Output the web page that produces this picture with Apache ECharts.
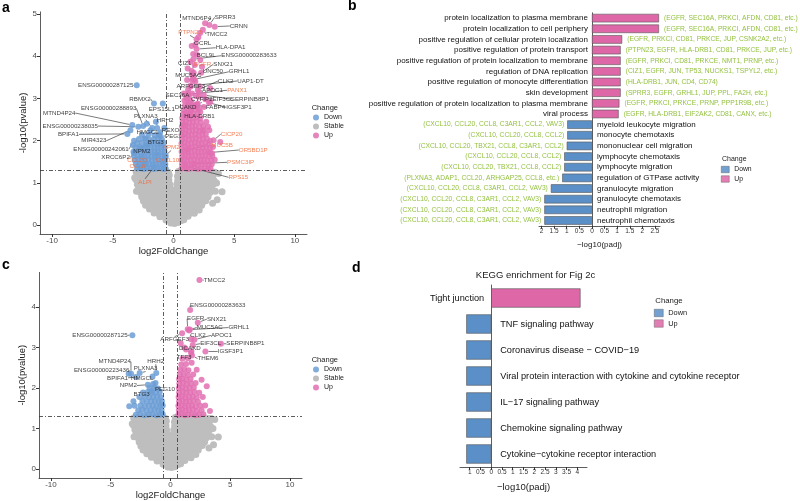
<!DOCTYPE html>
<html><head><meta charset="utf-8">
<style>html,body{margin:0;padding:0;background:#fff}#c{width:800px;height:501px}</style>
<script src="https://cdn.jsdelivr.net/npm/echarts@6/dist/echarts.min.js"></script>
</head><body><div id="c"></div>
<script>
// ---------------- DATA ----------------
const volcanoXTicks = [-10, -5, 0, 5, 10];
const volcanoYTicksA = [0, 1, 2, 3, 4, 5];
const volcanoYTicksC = [0, 1, 2, 3, 4];
const fcCut = 0.585, pCut = 1.301;

// Stable (grey) genes, shared cloud (log2FC, -log10 p)
const stable = [
[-3.08,1.26],[-2.72,1.28],[-2.38,1.25],[-2.05,1.27],[-1.70,1.28],[-1.36,1.26],[-1.02,1.27],[-0.70,1.28],[-0.42,1.25],[0.40,1.27],[0.70,1.26],[1.05,1.28],[1.38,1.25],[1.72,1.27],[2.05,1.28],[2.40,1.26],[2.75,1.27],[3.12,1.25],
[-2.95,1.17],[-2.60,1.16],[-2.22,1.18],[-1.88,1.17],[-1.53,1.15],[-1.20,1.18],[-0.86,1.17],[-0.55,1.16],[-0.35,1.18],[0.33,1.16],[0.55,1.18],[0.88,1.17],[1.22,1.15],[1.55,1.18],[1.90,1.16],[2.25,1.17],[2.58,1.18],[2.92,1.16],[3.25,1.17],
[-3.10,1.08],[-2.78,1.06],[-2.42,1.07],[-2.08,1.08],[-1.73,1.06],[-1.38,1.07],[-1.05,1.08],[-0.72,1.06],[-0.38,1.07],[0.35,1.06],[0.68,1.08],[1.02,1.07],[1.37,1.06],[1.70,1.08],[2.05,1.07],[2.40,1.06],[2.74,1.08],[3.08,1.07],[3.35,1.05],
[-2.98,0.97],[-2.62,0.98],[-2.27,0.96],[-1.92,0.97],[-1.58,0.98],[-1.22,0.96],[-0.88,0.97],[-0.56,0.98],[-0.30,0.96],[0.28,0.97],[0.55,0.96],[0.88,0.98],[1.22,0.97],[1.57,0.96],[1.90,0.98],[2.25,0.97],[2.60,0.96],[2.95,0.98],[3.28,0.97],
[-2.88,0.86],[-2.52,0.88],[-2.16,0.87],[-1.80,0.86],[-1.45,0.88],[-1.10,0.87],[-0.76,0.86],[-0.45,0.88],[-0.25,0.87],[0.25,0.86],[0.47,0.88],[0.80,0.87],[1.14,0.86],[1.48,0.88],[1.83,0.87],[2.17,0.86],[2.50,0.88],[2.84,0.87],[3.15,0.86],
[-2.72,0.77],[-2.36,0.76],[-2.00,0.78],[-1.65,0.77],[-1.30,0.76],[-0.96,0.78],[-0.62,0.77],[-0.35,0.76],[-0.20,0.78],[0.20,0.77],[0.38,0.76],[0.66,0.78],[1.00,0.77],[1.34,0.76],[1.68,0.78],[2.02,0.77],[2.36,0.76],[2.70,0.78],[3.00,0.77],
[-2.62,0.67],[-2.26,0.68],[-1.90,0.66],[-1.55,0.67],[-1.20,0.68],[-0.85,0.66],[-0.52,0.67],[-0.28,0.68],[-0.16,0.66],[0.17,0.67],[0.30,0.68],[0.55,0.66],[0.90,0.67],[1.24,0.68],[1.58,0.66],[1.92,0.67],[2.26,0.68],[2.58,0.66],[2.85,0.67],
[-2.48,0.57],[-2.12,0.56],[-1.77,0.58],[-1.42,0.57],[-1.08,0.56],[-0.74,0.58],[-0.42,0.57],[-0.18,0.56],[0.14,0.58],[0.28,0.57],[0.48,0.56],[0.80,0.58],[1.14,0.57],[1.48,0.56],[1.82,0.58],[2.15,0.57],[2.45,0.56],[2.66,0.58],
[-2.30,0.47],[-1.95,0.48],[-1.60,0.46],[-1.25,0.47],[-0.92,0.48],[-0.60,0.46],[-0.30,0.47],[-0.10,0.48],[0.10,0.46],[0.35,0.47],[0.65,0.48],[0.98,0.46],[1.32,0.47],[1.66,0.48],[2.00,0.46],[2.32,0.47],
[-1.98,0.38],[-1.62,0.37],[-1.28,0.39],[-0.95,0.38],[-0.62,0.37],[-0.32,0.39],[0.00,0.38],[0.30,0.37],[0.62,0.39],[0.95,0.38],[1.30,0.37],[1.62,0.39],[1.94,0.38],[2.12,0.36],
[-1.60,0.29],[-1.26,0.28],[-0.92,0.30],[-0.60,0.29],[-0.28,0.28],[0.04,0.30],[0.36,0.29],[0.68,0.28],[1.02,0.30],[1.36,0.29],[1.72,0.28],
[-1.12,0.20],[-0.78,0.21],[-0.45,0.19],[-0.12,0.20],[0.20,0.21],[0.52,0.19],[0.86,0.20],[1.20,0.21],
[-0.62,0.12],[-0.30,0.11],[0.02,0.13],[0.34,0.12],[0.64,0.11],[0.85,0.13],
[-0.22,0.05],[0.08,0.04],[0.36,0.06],
[3.60,0.60],[4.00,0.79],[3.22,0.52],[3.55,1.00],[3.45,0.80],[-3.05,0.80],[3.70,1.22],[-3.20,1.12],[3.40,1.25]
];

// Panel a: down-regulated (blue)
const downA = [
[-3.00,1.34],[-2.72,1.35],[-2.45,1.33],[-2.18,1.34],[-1.90,1.35],[-1.62,1.33],[-1.35,1.34],[-1.08,1.35],[-0.82,1.33],[-0.64,1.34],
[-3.10,1.44],[-2.82,1.45],[-2.55,1.43],[-2.28,1.44],[-2.00,1.45],[-1.72,1.43],[-1.45,1.44],[-1.18,1.45],[-0.92,1.43],[-0.68,1.44],
[-3.20,1.54],[-2.90,1.55],[-2.62,1.53],[-2.34,1.54],[-2.06,1.55],[-1.78,1.53],[-1.50,1.54],[-1.22,1.55],[-0.95,1.53],[-0.70,1.54],
[-3.25,1.64],[-2.95,1.65],[-2.66,1.63],[-2.38,1.64],[-2.10,1.65],[-1.82,1.63],[-1.54,1.64],[-1.26,1.65],[-0.98,1.63],[-0.72,1.64],
[-3.30,1.74],[-3.00,1.75],[-2.70,1.73],[-2.40,1.74],[-2.12,1.75],[-1.84,1.73],[-1.56,1.74],[-1.28,1.75],[-1.00,1.73],[-0.74,1.74],
[-3.15,1.84],[-2.80,1.85],[-2.45,1.83],[-2.15,1.84],[-1.86,1.85],[-1.58,1.83],[-1.30,1.84],[-1.02,1.85],[-0.76,1.83],
[-3.00,1.94],[-2.60,1.95],[-2.25,1.93],[-1.95,1.94],[-1.65,1.95],[-1.35,1.93],[-1.05,1.94],[-0.80,1.95],
[-2.85,2.04],[-2.40,2.05],[-2.00,2.03],[-1.60,2.04],[-1.25,2.05],[-0.95,2.03],
[-2.60,2.14],[-2.05,2.15],[-1.55,2.13],[-1.20,2.14],
[-3.35,1.90],[-0.75,2.30],[-1.90,2.25],[-2.20,2.40],[-1.45,2.45],[-0.70,1.40],[-0.66,1.60]
];
const downLabA = [
['ENSG00000287125',-3.03,3.31],['RBMX2',-1.61,2.88],['EPS15L1',-0.88,2.88],['MTND4P24',-3.40,2.37],
['ENSG00000288893',-2.50,2.35],['PLXNA3',-1.75,2.30],['HRH2',-1.35,2.30],['ENSG00000238035',-2.90,2.33],
['REXO4',-1.10,2.20],['PEG10',-1.11,2.11],['HMGCL',-2.30,2.05],['BPIFA1',-3.80,2.16],['MIR4323',-3.55,2.25],
['ENSG00000242061',-3.25,2.00],['BTG3',-2.70,1.82],['NPM2',-2.20,1.90],['XRCC6P2',-3.25,1.70],
['CCL20',-2.60,1.62],['CCL8',-2.40,1.45],['CXCL10',-1.40,1.67],['NPM2',-0.65,1.65],['ALPI',-1.60,1.38]
];
// Panel a: up-regulated (pink)
const upA = [
[0.66,1.34],[0.92,1.35],[1.18,1.33],[1.45,1.34],[1.72,1.35],[2.00,1.33],[2.28,1.34],[2.56,1.35],[2.85,1.33],[3.05,1.34],
[0.70,1.44],[0.95,1.45],[1.20,1.43],[1.48,1.44],[1.75,1.45],[2.02,1.43],[2.30,1.44],[2.60,1.45],[2.90,1.43],[3.15,1.44],
[0.66,1.54],[0.90,1.55],[1.15,1.53],[1.42,1.54],[1.70,1.55],[1.98,1.53],[2.25,1.54],[2.52,1.55],[2.80,1.53],[3.10,1.54],
[0.72,1.64],[0.98,1.65],[1.25,1.63],[1.52,1.64],[1.80,1.65],[2.08,1.63],[2.36,1.64],[2.64,1.65],[2.92,1.63],[3.20,1.64],
[0.67,1.74],[0.93,1.75],[1.20,1.73],[1.46,1.74],[1.74,1.75],[2.02,1.73],[2.30,1.74],[2.58,1.75],[2.85,1.73],
[0.70,1.84],[0.97,1.85],[1.25,1.83],[1.52,1.84],[1.80,1.85],[2.10,1.83],[2.40,1.84],[2.70,1.85],[3.00,1.83],
[0.66,1.94],[0.92,1.95],[1.20,1.93],[1.48,1.94],[1.76,1.95],[2.05,1.93],[2.33,1.94],[2.62,1.95],[2.90,1.93],
[0.70,2.04],[0.98,2.05],[1.26,2.03],[1.55,2.04],[1.84,2.05],[2.12,2.03],[2.42,2.04],[2.75,2.05],
[0.68,2.14],[0.95,2.15],[1.22,2.13],[1.50,2.14],[1.80,2.15],[2.08,2.13],[2.38,2.14],[2.66,2.15],
[0.72,2.24],[1.00,2.25],[1.28,2.23],[1.56,2.24],[1.85,2.25],[2.15,2.23],[2.50,2.24],
[0.70,2.34],[0.98,2.35],[1.25,2.33],[1.54,2.34],[1.82,2.35],[2.12,2.33],[2.45,2.34],
[0.75,2.44],[1.02,2.45],[1.30,2.43],[1.60,2.44],[1.90,2.45],[2.25,2.43],
[0.72,2.54],[1.00,2.55],[1.28,2.53],[1.58,2.54],[1.90,2.55],[2.20,2.53],
[0.80,2.64],[1.08,2.65],[1.36,2.63],[1.66,2.64],[2.00,2.65],
[0.85,2.74],[1.15,2.75],[1.45,2.73],[1.78,2.74],[2.10,2.75],
[0.95,2.84],[1.25,2.85],[1.55,2.83],[1.95,2.84],
[3.85,1.97],[3.17,1.70],[3.03,2.00],[3.40,1.55],[3.25,1.85],[2.95,2.25],[2.70,2.45],[2.85,2.33],[2.40,2.25],
[1.80,4.27],[1.94,4.03],[2.21,3.91],[1.75,3.79],[2.35,3.75],[1.39,3.87],[1.66,3.61],[1.53,3.57],[1.12,3.44],[1.80,3.40],
[2.16,3.29],[1.39,3.28],[3.03,3.24],[1.53,3.12],[2.07,3.04],[2.62,2.98],[3.03,2.92],[1.25,3.04],[1.53,2.88],[1.94,2.80],
[0.98,2.65],[1.34,2.61],[2.21,2.68],[0.84,2.37],[1.05,3.00],[0.90,2.95],[2.50,2.80],[1.20,3.20],[2.05,4.45],[2.20,4.55]
];
const upLabA = [
['MTND6P4',2.60,4.78],['SPRR3',2.95,4.74],['CRNN',3.40,4.70],['PTPN23',1.90,4.40],['TMCC2',2.42,4.63],
['OCRL',1.50,4.24],['HLA-DPA1',1.90,4.17],['BCL9L',1.62,4.05],['ENSG00000283633',1.64,3.93],['CIZ1',1.17,3.71],
['EGFR',1.50,3.65],['SNX21',2.28,3.61],['MUC5AC',1.55,3.42],['UNC50',1.60,3.48],['GRHL1',1.70,3.45],
['CLK2',2.00,3.20],['UAP1-DT',1.40,3.30],['ARFGEF3',0.85,3.12],['APOC1',2.10,3.15],['PANX1',1.20,3.10],
['SEC16A',1.40,2.95],['CYFIP2',2.00,2.88],['EIF3CL',1.86,3.06],['SERPINB8P1',2.50,3.08],['DCAKD',1.25,2.90],
['FABP4',1.90,2.85],['IGSF3P1',2.92,2.90],['HLA-DRB1',1.40,2.70],['CICP20',3.30,2.01],['MUC5B',1.12,1.79],
['OR5BD1P',3.03,1.72],['PSMC3IP',1.66,1.45],['RPS15',0.98,1.40]
];

// Panel c
const downC = [
[-2.90,1.34],[-2.55,1.35],[-2.20,1.33],[-1.85,1.34],[-1.50,1.35],[-1.18,1.33],[-0.88,1.34],[-0.65,1.35],
[-2.70,1.45],[-2.35,1.46],[-2.00,1.44],[-1.66,1.45],[-1.34,1.46],[-1.02,1.44],[-0.75,1.45],
[-3.00,1.56],[-2.50,1.57],[-2.15,1.55],[-1.80,1.56],[-1.48,1.57],[-1.16,1.55],[-0.86,1.56],[-0.65,1.57],
[-3.10,1.67],[-2.35,1.68],[-1.98,1.66],[-1.62,1.67],[-1.30,1.68],[-1.00,1.66],[-0.72,1.67],
[-2.60,1.78],[-2.15,1.79],[-1.78,1.77],[-1.44,1.78],[-1.12,1.79],[-0.82,1.77],
[-2.30,1.89],[-1.90,1.90],[-1.55,1.88],[-1.22,1.89],[-0.90,1.90],
[-1.75,2.00],[-1.35,2.01],[-1.05,1.99],[-1.25,2.12],[-3.45,1.55]
];
const downLabC = [
['ENSG00000287125',-3.19,3.30],['MTND4P24',-3.30,2.35],['HRH2',-1.19,2.37],['ENSG00000223436',-3.50,2.35],
['PLXNA3',-2.58,2.37],['BPIFA1',-2.90,2.27],['HMGCL',-1.50,2.28],['NPM2',-1.89,2.08],['PEG10',-1.45,2.10],['BTG3',-1.60,1.92]
];
const upC = [
[0.66,1.34],[0.92,1.35],[1.20,1.33],[1.48,1.34],[1.78,1.35],[2.08,1.33],[2.40,1.34],[2.75,1.35],[3.30,1.43],
[0.70,1.45],[0.98,1.46],[1.26,1.44],[1.55,1.45],[1.86,1.46],[2.20,1.44],[2.60,1.45],
[0.66,1.56],[0.94,1.57],[1.22,1.55],[1.50,1.56],[1.80,1.57],[2.12,1.55],[2.50,1.56],[2.90,1.57],
[0.72,1.67],[1.00,1.68],[1.30,1.66],[1.60,1.67],[1.92,1.68],[2.30,1.66],
[0.68,1.78],[0.96,1.79],[1.24,1.77],[1.54,1.78],[1.86,1.79],[2.20,1.77],[2.70,1.78],
[0.72,1.89],[1.02,1.90],[1.32,1.88],[1.64,1.89],[2.00,1.90],[2.40,1.88],
[0.70,2.00],[0.98,2.01],[1.28,1.99],[1.60,2.00],[1.95,2.01],[3.03,2.04],
[0.74,2.11],[1.04,2.12],[1.36,2.10],[1.70,2.11],[2.10,2.12],
[0.72,2.22],[1.00,2.23],[1.32,2.21],[1.68,2.22],[2.60,2.20],
[0.78,2.33],[1.10,2.34],[1.45,2.32],[1.90,2.33],
[0.82,2.45],[1.15,2.46],[1.50,2.44],[2.19,2.45],
[0.90,2.58],[1.30,2.59],[1.77,2.62],
[1.00,2.72],[1.45,2.73],[1.15,3.00],[0.85,3.10],[1.30,2.95]
];
const upLabC = [
['TMCC2',2.42,4.66],['ENSG00000283633',1.64,3.92],['EGFR',1.44,3.45],['SNX21',2.28,3.61],['MUC5AC',1.55,3.42],
['GRHL1',1.62,3.44],['ARFGEF3',0.97,3.35],['CLK2',1.72,3.20],['APOC1',2.00,3.19],['EIF3CL',1.86,3.06],
['SERPINB8P1',4.22,3.09],['DCAKD',1.75,2.90],['IGSF3P1',2.92,2.90],['TFF3',1.72,2.86],['THEM6',1.80,2.80]
];

// Panel b: GO enrichment
const goUpTerms = ['protein localization to plasma membrane','protein localization to cell periphery','positive regulation of cellular protein localization','positive regulation of protein transport','positive regulation of protein localization to membrane','regulation of DNA replication','positive regulation of monocyte differentiation','skin development','positive regulation of protein localization to plasma membrane','viral process'];
const goUpVals = [2.66,2.66,1.20,1.14,1.14,1.14,1.14,1.14,1.09,1.06];
const goUpGenes = ['(EGFR, SEC16A, PRKCI, AFDN, CD81, etc.)','(EGFR, SEC16A, PRKCI, AFDN, CD81, etc.)','(EGFR, PRKCI, CD81, PRKCE, JUP, CSNK2A2, etc.)','(PTPN23, EGFR, HLA-DRB1, CD81, PRKCE, JUP, etc.)','(EGFR, PRKCI, CD81, PRKCE, NMT1, PRNP, etc.)','(CIZ1, EGFR, JUN, TP53, NUCKS1, TSPYL2, etc.)','(HLA-DRB1, JUN, CD4, CD74)','(SPRR3, EGFR, GRHL1, JUP, PPL, FA2H, etc.)','(EGFR, PRKCI, PRKCE, PRNP, PPP1R9B, etc.)','(EGFR, HLA-DRB1, EIF2AK2, CD81, CANX, etc.)'];
const goDownTerms = ['myeloid leukocyte migration','monocyte chemotaxis','mononuclear cell migration','lymphocyte chemotaxis','lymphocyte migration','regulation of GTPase activity','granulocyte migration','granulocyte chemotaxis','neutrophil migration','neutrophil chemotaxis'];
const goDownVals = [0.98,0.98,1.00,1.10,1.10,1.18,1.63,1.89,1.89,1.89];
const goDownGenes = ['(CXCL10, CCL20, CCL8, C3AR1, CCL2, VAV3)','(CXCL10, CCL20, CCL8, CCL2)','(CXCL10, CCL20, TBX21, CCL8, C3AR1, CCL2)','(CXCL10, CCL20, CCL8, CCL2)','(CXCL10, CCL20, TBX21, CCL8, CCL2)','(PLXNA3, ADAP1, CCL20, ARHGAP25, CCL8, etc.)','(CXCL10, CCL20, CCL8, C3AR1, CCL2, VAV3)','(CXCL10, CCL20, CCL8, C3AR1, CCL2, VAV3)','(CXCL10, CCL20, CCL8, C3AR1, CCL2, VAV3)','(CXCL10, CCL20, CCL8, C3AR1, CCL2, VAV3)'];
const goTicks = [-2,-1.5,-1,-0.5,0,0.5,1,1.5,2,2.5];

// Panel d: KEGG enrichment
const keggUpTerms = ['Tight junction'];
const keggUpVals = [4.15];
const keggDownTerms = ['TNF signaling pathway','Coronavirus disease \u2212 COVID\u221219','Viral protein interaction with cytokine and cytokine receptor','IL\u221217 signaling pathway','Chemokine signaling pathway','Cytokine\u2212cytokine receptor interaction'];
const keggDownVals = [1.16,1.16,1.16,1.16,1.16,1.16];
const keggTicks = [-1,-0.5,0,0.5,1,1.5,2,2.5,3,3.5,4];

// -------------- LAYOUT / STYLE (not data) --------------
// label offsets in px [dx, dy, orange?]
const offDownA = [[-31,0,0],[-14,-4.5,0],[-1,5.5,0],[-73,-12,0],[-34.5,-17.6,0],[-6.5,-11.3,0],[8,-7.3,0],[-68,-0.7,0],
[12,-2,0],[15,0,0],[2,-6,0],[-59,0.4,0],[-36.6,10.6,0],[-33,8.6,0],[15,-6,0],[-5,6,0],[-18.5,4.4,0],
[-5,3.3,1],[-7,2.8,1],[11,5.4,1],[5.5,-8,1],[-9,15,1]];
const offUpA = [[-8.4,-5,0],[15.7,-7.7,0],[24,-0.7,0],[-6.6,-7,1],[14,4.4,0],[11,-2.7,0],[34,-1.3,0],[13,1,0],[55.6,-3.5,0],[-3,-5,0],
[11,-6.3,1],[22,-8.4,0],[-4,-5,0],[20,-6.5,0],[45,-7.7,0],[28,-9,0],[60,-4.8,0],[7,-7,0],[13.5,-2,0],[49,-4,1],
[-13,-5.5,0],[4,-4,0],[27,3,0],[46,4,0],[-3,5,0],[19,2.5,0],[30,4.6,0],[9,5.6,0],[18,-6,1],[35,-4.5,1],
[43,-2.5,1],[47,-1.6,1],[53,11.3,1]];
const offDownC = [[-32.4,0,0],[-16.3,-12,0],[-0.5,-11.7,0],[-27,-3.5,0],[6,-4.4,0],[-18.3,0.8,0],[-10.4,1.2,0],[-19.6,0.8,0],[11.8,5.6,0],[-9.7,3.2,0]];
const offUpC = [[15,0,0],[27.7,-4.6,0],[8,-10.4,0],[19,-3.6,0],[20.7,-3,0],[49,-2,0],[-7.5,6.5,0],[7,-4,0],[27,-4.3,0],[18,-1.3,0],
[24.5,0,0],[-1.5,-3,0],[25,0,0],[-7,4,0],[16,3,0]];

const FONT = '"Liberation Sans", Arial, sans-serif';
const C = {up:'#E270B2', down:'#6C9DD5', stable:'#BEBEBE', barUp:'#DE67A8', barDown:'#5B8FC8', gene:'#93C13E', orange:'#F26B38', ink:'#1a1a1a', axis:'#333', tick:'#4d4d4d'};

function labItems(lab, off){
  return lab.map((l,i)=>({name:l[0], value:[l[1],l[2]], label:{show:true, color: off[i][2] ? C.orange : C.ink}}));
}
function volcanoSeries(gi, downPlain, downLab, downOff, upPlain, upLab, upOff){
  const common = {type:'scatter', xAxisIndex:gi, yAxisIndex:gi, silent:true,
    label:{show:false, position:'inside', fontSize:6.2, fontFamily:FONT, color:C.ink, formatter: p => p.name},
    labelLine:{show:true, lineStyle:{color:'#222', width:0.6}}};
  return [
    {type:'scatter', name:'Stable', xAxisIndex:gi, yAxisIndex:gi, silent:true, data:stable, symbolSize:7, itemStyle:{color:C.stable, opacity:1}, z:1},
    Object.assign({}, common, {name:'Down', data: labItems(downLab, downOff).concat(downPlain), symbolSize:6,
      itemStyle:{color:C.down, opacity:0.85}, z:2,
      labelLayout: p => { const o = downOff[p.dataIndex]; return o ? {dx:o[0], dy:o[1]} : {}; }}),
    Object.assign({}, common, {name:'Up', data: labItems(upLab, upOff).concat(upPlain), symbolSize:6,
      itemStyle:{color:C.up, opacity:0.85}, z:3,
      labelLayout: p => { const o = upOff[p.dataIndex]; return o ? {dx:o[0], dy:o[1]} : {}; },
      markLine:{silent:true, symbol:'none', label:{show:false}, animation:false,
        lineStyle:{type:[4,2,1,2], color:'#333', width:0.8},
        data:[{xAxis:-fcCut},{xAxis:fcCut},{yAxis:pCut}]}})
  ];
}
function volcanoX(gi){
  return {type:'value', gridIndex:gi, min:-11, max:11,
    axisLine:{show:true, onZero:false, lineStyle:{color:C.axis, width:0.8}},
    axisTick:{show:true, length:3, customValues:volcanoXTicks, lineStyle:{color:C.axis}},
    axisLabel:{customValues:volcanoXTicks, fontSize:8, color:C.tick, margin:3, fontFamily:FONT},
    splitLine:{show:false},
    name:'log2FoldChange', nameLocation:'middle', nameGap:12, nameTextStyle:{fontSize:9.5, color:C.ink, fontFamily:FONT}};
}
function volcanoY(gi, min, max, ticks){
  return {type:'value', gridIndex:gi, min:min, max:max,
    axisLine:{show:true, onZero:false, lineStyle:{color:C.axis, width:0.8}},
    axisTick:{show:true, length:3, customValues:ticks, lineStyle:{color:C.axis}},
    axisLabel:{customValues:ticks, fontSize:8, color:C.tick, margin:3, fontFamily:FONT},
    splitLine:{show:false},
    name:'-log10(pvalue)', nameLocation:'middle', nameGap:9, nameTextStyle:{fontSize:9.5, color:C.ink, fontFamily:FONT}};
}
function enrichSeries(gi, upTerms, upVals, upGenes, downTerms, downVals, downGenes, o){
  const n1 = upTerms.length, n2 = downTerms.length;
  const upData = upVals.concat(new Array(n2).fill('-'));
  const downData = new Array(n1).fill('-').concat(downVals.map(v=>-v));
  const nameData = upTerms.map(()=>({value:0, label:{position:'left', distance:o.upDist}}))
      .concat(downTerms.map(()=>({value:0, label:{position:'right', distance:o.downDist}})));
  return [
    {type:'bar', name:'Up', xAxisIndex:gi, yAxisIndex:gi, data:upData, barWidth:o.bw, barGap:'-100%', silent:true,
      itemStyle:{color:C.barUp, borderColor:'#555', borderWidth:0.6},
      label:{show: !!upGenes, position:'right', distance:5, fontSize:6.7, color:C.gene, fontFamily:FONT,
        formatter: p => upGenes ? upGenes[p.dataIndex] : ''}},
    {type:'bar', name:'Down', xAxisIndex:gi, yAxisIndex:gi, data:downData, barWidth:o.bw, barGap:'-100%', silent:true,
      itemStyle:{color:C.barDown, borderColor:'#555', borderWidth:0.6},
      label:{show: !!downGenes, position:'left', distance:3, fontSize:6.7, color:C.gene, fontFamily:FONT,
        formatter: p => downGenes ? downGenes[p.dataIndex - n1] : ''}},
    {type:'bar', name:'names', xAxisIndex:gi, yAxisIndex:gi, data:nameData, barWidth:o.bw, barGap:'-100%', silent:true,
      itemStyle:{color:'rgba(0,0,0,0)'},
      label:{show:true, fontSize:o.fs, color:'#111', fontFamily:FONT, formatter:'{b}'}}
  ];
}
function enrichX(gi, min, max, ticks, fs, gap, nfs){
  return {type:'value', gridIndex:gi, min:min, max:max,
    axisLine:{show:true, onZero:false, lineStyle:{color:C.axis, width:0.8}},
    axisTick:{show:true, length:3, customValues:ticks, lineStyle:{color:C.axis}},
    axisLabel:{customValues:ticks, fontSize:fs, color:'#333', margin:2, fontFamily:FONT, formatter: v => String(Math.abs(v))},
    splitLine:{show:false},
    name:'\u2212log10(padj)', nameLocation:'middle', nameGap:gap, nameTextStyle:{fontSize:nfs, color:C.ink, fontFamily:FONT}};
}
function enrichY(gi, cats){
  return {type:'category', gridIndex:gi, data:cats, inverse:true,
    axisLine:{show:true, onZero:true, lineStyle:{color:C.axis, width:0.8}},
    axisTick:{show:false}, axisLabel:{show:false}, splitLine:{show:false}};
}

const legendBase = (left, top, icon, w, h, gap, fs, items) => ({
  left:left, top:top, orient:'vertical', padding:0, icon:icon, itemWidth:w, itemHeight:h, itemGap:gap,
  selectedMode:false, textStyle:{fontSize:fs, color:C.ink, fontFamily:FONT}, itemStyle:{borderWidth:0},
  data: items});

const option = {
  animation:false,
  textStyle:{fontFamily:FONT},
  grid:[
    {left:40, top:11.9, width:267, height:222.1},
    {left:539, top:12.8, width:121, height:213},
    {left:39, top:272.4, width:263, height:206.6},
    {left:460, top:285, width:127, height:182}
  ],
  xAxis:[
    volcanoX(0),
    enrichX(1, -2.1, 2.7, goTicks, 6.5, 15, 8),
    volcanoX(2),
    enrichX(3, -1.45, 4.45, keggTicks, 6.5, 15, 9.5)
  ],
  yAxis:[
    volcanoY(0, -0.21, 5.05, volcanoYTicksA),
    enrichY(1, goUpTerms.concat(goDownTerms)),
    volcanoY(2, -0.22, 4.85, volcanoYTicksC),
    enrichY(3, keggUpTerms.concat(keggDownTerms))
  ],
  legend:[
    legendBase(313, 114, 'circle', 6, 6, 2, 7, [{name:'Down', itemStyle:{color:C.down}},{name:'Stable', itemStyle:{color:C.stable}},{name:'Up', itemStyle:{color:C.up}}]),
    legendBase(313, 366, 'circle', 6, 6, 2, 7, [{name:'Down', itemStyle:{color:C.down}},{name:'Stable', itemStyle:{color:C.stable}},{name:'Up', itemStyle:{color:C.up}}]),
    legendBase(721, 166, 'rect', 8, 6.5, 2.5, 6.8, [{name:'Down', itemStyle:{color:C.barDown, borderColor:'#555', borderWidth:0.5}},{name:'Up', itemStyle:{color:C.barUp, borderColor:'#555', borderWidth:0.5}}]),
    legendBase(654, 309, 'rect', 9, 7.5, 2.5, 7.4, [{name:'Down', itemStyle:{color:C.barDown, borderColor:'#555', borderWidth:0.5}},{name:'Up', itemStyle:{color:C.barUp, borderColor:'#555', borderWidth:0.5}}])
  ],
  graphic:[
    {type:'text', x:2, y:8, style:{text:'a', font:'bold 14px '+FONT, fill:'#000', verticalAlign:'middle'}},
    {type:'text', x:348, y:6.3, style:{text:'b', font:'bold 14px '+FONT, fill:'#000', verticalAlign:'middle'}},
    {type:'text', x:2, y:265.5, style:{text:'c', font:'bold 14px '+FONT, fill:'#000', verticalAlign:'middle'}},
    {type:'text', x:352, y:268.5, style:{text:'d', font:'bold 14px '+FONT, fill:'#000', verticalAlign:'middle'}},
    {type:'text', x:311.7, y:108.3, style:{text:'Change', font:'7.5px '+FONT, fill:C.ink, verticalAlign:'middle'}},
    {type:'text', x:311.7, y:360, style:{text:'Change', font:'7.5px '+FONT, fill:C.ink, verticalAlign:'middle'}},
    {type:'text', x:722, y:159.3, style:{text:'Change', font:'7px '+FONT, fill:C.ink, verticalAlign:'middle'}},
    {type:'text', x:655.3, y:300.7, style:{text:'Change', font:'7.8px '+FONT, fill:C.ink, verticalAlign:'middle'}},
    {type:'text', x:535.5, y:275, style:{text:'KEGG enrichment for Fig 2c', font:'9.5px '+FONT, fill:C.ink, align:'center', verticalAlign:'middle'}}
  ],
  series: [].concat(
    volcanoSeries(0, downA, downLabA, offDownA, upA, upLabA, offUpA),
    enrichSeries(1, goUpTerms, goUpVals, goUpGenes, goDownTerms, goDownVals, goDownGenes, {bw:'80%', fs:8, upDist:4, downDist:5}),
    volcanoSeries(2, downC, downLabC, offDownC, upC, upLabC, offUpC),
    enrichSeries(3, keggUpTerms, keggUpVals, null, keggDownTerms, keggDownVals, null, {bw:'74%', fs:9.2, upDist:7, downDist:9})
  )
};
const chart = echarts.init(document.getElementById('c'), null, {renderer:'canvas'});
chart.setOption(option);
</script></body></html>
